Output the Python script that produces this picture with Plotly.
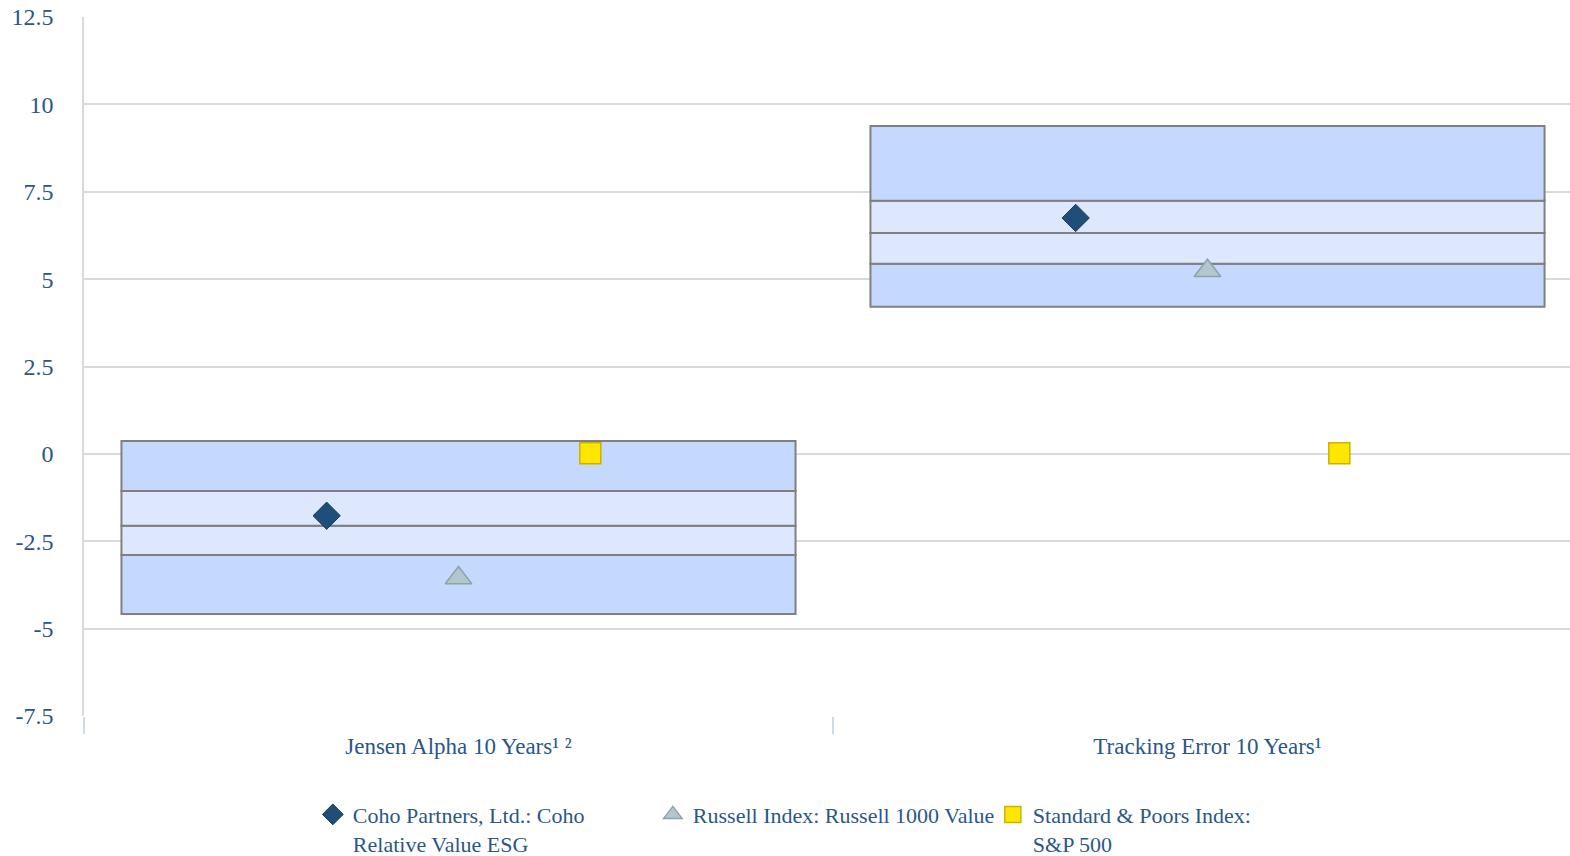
import plotly.graph_objects as go

categories = ["Jensen Alpha 10 Years\u00b9 \u00b2", "Tracking Error 10 Years\u00b9"]
p5 = [-4.58, 4.21]
p25 = [-2.89, 5.44]
p50 = [-2.06, 6.32]
p75 = [-1.06, 7.24]
p95 = [0.37, 9.38]

coho = [-1.77, 6.75]
russell = [-3.55, 5.24]
sp500 = [0.02, 0.02]

y_ticks = [12.5, 10, 7.5, 5, 2.5, 0, -2.5, -5, -7.5]
y_tick_labels = ["12.5", "10", "7.5", "5", "2.5", "0", "-2.5", "-5", "-7.5"]

TEXT = "#2b5786"
FONT = "Liberation Serif"
DARK = "#c5d8fd"
LIGHT = "#dde7fd"
EDGE = "#808080"

xpos = list(range(len(categories)))
fig = go.Figure()

bands = [(p5, p25, DARK), (p25, p50, LIGHT), (p50, p75, LIGHT), (p75, p95, DARK)]
for lo, hi, col in bands:
    fig.add_trace(go.Bar(
        x=xpos, base=lo, y=[h - l for l, h in zip(lo, hi)], width=0.9,
        marker=dict(color=col, line=dict(color=EDGE, width=2)),
        showlegend=False, hoverinfo="skip"))

off = 0.176
fig.add_trace(go.Scatter(
    x=[p - off for p in xpos], y=coho, mode="markers",
    name="Coho Partners, Ltd.: Coho<br>Relative Value ESG",
    marker=dict(symbol="diamond", size=21, color="#1f4e79",
                line=dict(color="#173d60", width=1))))
fig.add_trace(go.Scatter(
    x=xpos, y=russell, mode="markers",
    name="Russell Index: Russell 1000 Value",
    marker=dict(symbol="triangle-up", size=23, color="#b4c6cd",
                line=dict(color="#8da2aa", width=1.5))))
fig.add_trace(go.Scatter(
    x=[p + off for p in xpos], y=sp500, mode="markers",
    name="Standard & Poors Index:<br>S&P 500",
    marker=dict(symbol="square", size=21, color="#ffe600",
                line=dict(color="#c9b300", width=1.5))))

fig.update_layout(
    width=1570, height=856,
    margin=dict(l=84, r=0, t=17, b=140, autoexpand=False),
    plot_bgcolor="white", paper_bgcolor="white",
    barmode="overlay",
    font=dict(family=FONT, size=22, color=TEXT),
    legend=dict(orientation="h", x=0.154, xanchor="left", y=-0.111, yanchor="top",
                valign="top",
                font=dict(family=FONT, size=22, color=TEXT),
                entrywidth=295, traceorder="normal"),
    xaxis=dict(range=[-0.5, -0.5 + 1486 / 749], tickvals=xpos, ticktext=categories,
               automargin=False,
               showgrid=False, zeroline=False, showline=False,
               ticks="outside", ticklen=9, tickcolor="rgba(0,0,0,0)",
               minor=dict(tick0=0.5, dtick=1, ticks="outside", ticklen=17,
                          tickcolor="#d0d9e6", tickwidth=1.5, showgrid=False),
               tickfont=dict(family=FONT, size=23, color=TEXT)),
    yaxis=dict(range=[-7.5, 12.5], tickvals=y_ticks, ticktext=y_tick_labels,
               automargin=False,
               showgrid=True, gridcolor="#d9d9d9", gridwidth=1.5,
               zeroline=False, showline=True, linecolor="#d9d9d9", linewidth=1.5,
               ticks="outside", ticklen=24, tickcolor="rgba(0,0,0,0)",
               tickfont=dict(family=FONT, size=24, color=TEXT)),
)

fig.write_html("out.html", config={"displayModeBar": False},
               post_script="document.body.style.margin='0';")
